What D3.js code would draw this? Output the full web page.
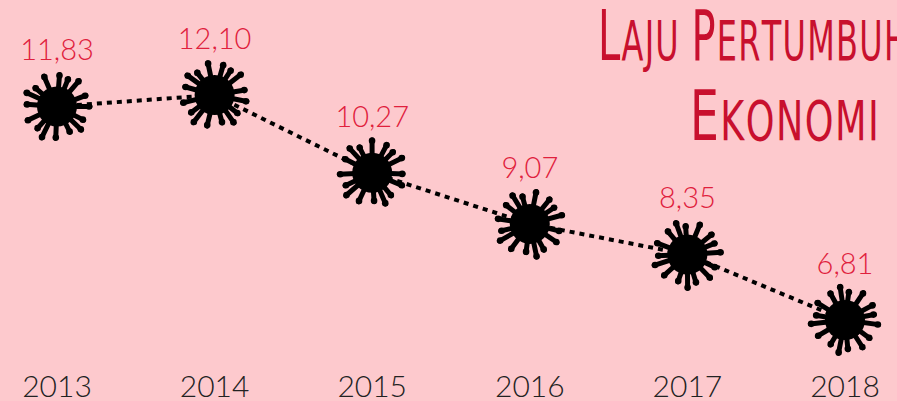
<!DOCTYPE html>
<html><head><meta charset="utf-8">
<script src="https://cdn.jsdelivr.net/npm/d3@7"></script>
<style>
html,body{margin:0;padding:0;background:#fdc9cd;}
svg{display:block;}
</style></head>
<body>
<script>
const years = [2013, 2014, 2015, 2016, 2017, 2018];
const values = [11.83, 12.10, 10.27, 9.07, 8.35, 6.81];
const valueLabels = ["11,83", "12,10", "10,27", "9,07", "8,35", "6,81"];
const titleLine1 = "Laju Pertumbuhan";
const titleLine2 = "Ekonomi";

const W = 897, H = 401;
const svg = d3.select("body").append("svg").attr("width", W).attr("height", H);
svg.append("rect").attr("width", W).attr("height", H).attr("fill", "#fdc9cd");

const x = d3.scaleLinear().domain([2013, 2018]).range([57, 845]);
const y = d3.scaleLinear().domain([6.81, 12.10]).range([320, 95]);

// Title (small caps style), horizontally condensed to target width
function smallCapsTitle(text, xPos, yPos, len) {
  const g = svg.append("g");
  const t = g.append("text")
    .attr("x", 0).attr("y", 0)
    .attr("fill", "#c8102e")
    .attr("font-family", "'Liberation Sans Narrow','DejaVu Sans Condensed',sans-serif")
    .attr("letter-spacing", 2);
  text.split("").forEach((ch, i) => {
    const big = i === 0 || text[i - 1] === " ";
    t.append("tspan").attr("font-size", big ? 70 : 56).text(ch.toUpperCase());
  });
  const w = t.node().getComputedTextLength();
  const s = len / w;
  g.attr("transform", `translate(${xPos},${yPos}) scale(${s},1)`);
}
smallCapsTitle(titleLine1, 598, 60, 357);
smallCapsTitle(titleLine2, 690, 140, 188);

// Dotted line
const line = d3.line().x((d, i) => x(years[i])).y(d => y(d));
svg.append("path").datum(values)
  .attr("d", line)
  .attr("fill", "none").attr("stroke", "#000")
  .attr("stroke-width", 4).attr("stroke-dasharray", "5,5");

// Virus markers
const spikeLens = [36, 33, 37, 32, 35, 38, 33, 36, 34, 37, 32, 36, 35, 33, 37, 34];
const g = svg.selectAll("g.marker").data(values).enter().append("g")
  .attr("class", "marker")
  .attr("transform", (d, i) => `translate(${x(years[i])},${y(d)})`);
g.each(function (d, i) {
  const m = d3.select(this);
  spikeLens.forEach((L, k) => {
    const a = (k / spikeLens.length) * 2 * Math.PI + i * 0.2 + Math.sin(k * 1.7) * 0.08;
    m.append("line")
      .attr("x1", 0).attr("y1", 0)
      .attr("x2", Math.cos(a) * (L - 3)).attr("y2", Math.sin(a) * (L - 3))
      .attr("stroke", "#000").attr("stroke-width", 5).attr("stroke-linecap", "round");
    m.append("circle")
      .attr("cx", Math.cos(a) * (L - 4)).attr("cy", Math.sin(a) * (L - 4))
      .attr("r", 3.3).attr("fill", "#000");
  });
  m.append("circle").attr("r", 20).attr("fill", "#000");
});

// Value labels
svg.selectAll("text.val").data(values).enter().append("text")
  .attr("class", "val")
  .attr("x", (d, i) => x(years[i]))
  .attr("y", d => y(d) - 46)
  .attr("text-anchor", "middle")
  .attr("fill", "#e0203c")
  .attr("font-family", "Lato, 'Open Sans', sans-serif")
  .attr("font-weight", 300)
  .attr("font-size", 29)
  .text((d, i) => valueLabels[i]);

// Year axis labels
svg.selectAll("text.year").data(years).enter().append("text")
  .attr("class", "year")
  .attr("x", d => x(d))
  .attr("y", 397)
  .attr("text-anchor", "middle")
  .attr("fill", "#222")
  .attr("font-family", "Lato, 'Open Sans', sans-serif")
  .attr("font-weight", 300)
  .attr("font-size", 30)
  .text(d => d);
</script>
</body></html>
